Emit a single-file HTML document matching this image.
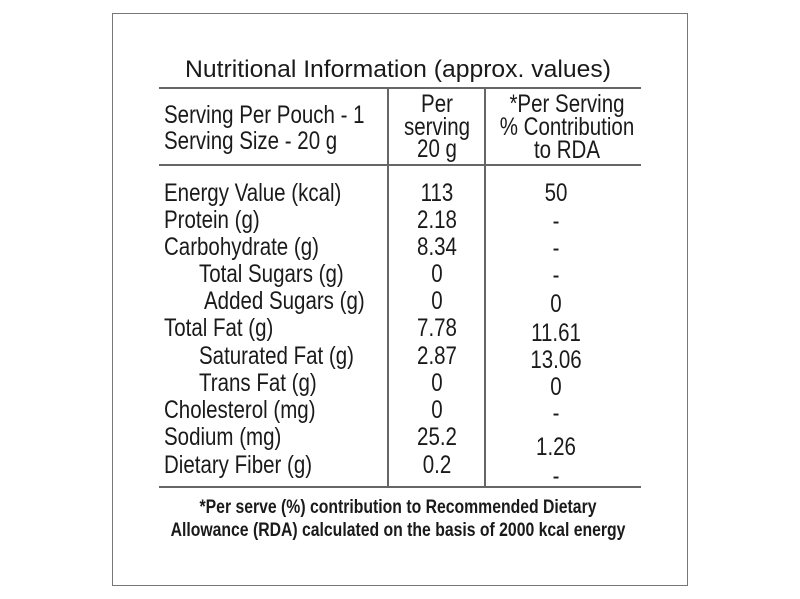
<!DOCTYPE html>
<html><head><meta charset="utf-8"><style>
body{margin:0;width:800px;height:599px;background:#fff;position:relative;overflow:hidden;font-family:"Liberation Sans",Arial,sans-serif;color:#1a1a1a}
.b{position:absolute;border:1px solid #777}
.l{position:absolute;background:#666}
.t{position:absolute;white-space:nowrap;font-size:25px;line-height:26px;height:26px;transform-origin:left center;transform:scaleX(0.82)}
.c{position:absolute;white-space:nowrap;font-size:25px;line-height:26px;height:26px;width:200px;text-align:center;transform:scaleX(0.82)}
.f{position:absolute;left:98px;width:600px;text-align:center;font-weight:bold;font-size:19px;line-height:22px;transform:scaleX(0.83);white-space:nowrap}
</style></head><body>
<div class="b" style="left:112px;top:13px;width:574px;height:571px"></div>
<div class="l" style="left:159px;top:87px;width:482px;height:2px"></div>
<div class="l" style="left:159px;top:164px;width:482px;height:2px"></div>
<div class="l" style="left:159px;top:486px;width:482px;height:2px"></div>
<div class="l" style="left:387px;top:88px;width:2px;height:399px"></div>
<div class="l" style="left:484px;top:88px;width:2px;height:399px"></div>
<div class="c" style="left:159px;top:57px;width:478px;font-size:24px;transform:scaleX(1.03)">Nutritional Information (approx. values)</div>
<div class="t" style="left:164px;top:102px">Serving Per Pouch - 1</div>
<div class="t" style="left:164px;top:128px">Serving Size - 20 g</div>
<div class="c" style="left:337px;top:91px">Per</div>
<div class="c" style="left:337px;top:114px">serving</div>
<div class="c" style="left:337px;top:136px">20 g</div>
<div class="c" style="left:467px;top:91px">*Per Serving</div>
<div class="c" style="left:467px;top:114px">% Contribution</div>
<div class="c" style="left:467px;top:137px">to RDA</div>
<div class="t" style="left:164px;top:180px">Energy Value (kcal)</div>
<div class="t" style="left:164px;top:207px">Protein (g)</div>
<div class="t" style="left:164px;top:234px">Carbohydrate (g)</div>
<div class="t" style="left:199px;top:261px">Total Sugars (g)</div>
<div class="t" style="left:204px;top:288px">Added Sugars (g)</div>
<div class="t" style="left:164px;top:315px">Total Fat (g)</div>
<div class="t" style="left:199px;top:343px">Saturated Fat (g)</div>
<div class="t" style="left:199px;top:370px">Trans Fat (g)</div>
<div class="t" style="left:164px;top:397px">Cholesterol (mg)</div>
<div class="t" style="left:164px;top:424px">Sodium (mg)</div>
<div class="t" style="left:164px;top:452px">Dietary Fiber (g)</div>
<div class="c" style="left:337px;top:180px">113</div>
<div class="c" style="left:337px;top:207px">2.18</div>
<div class="c" style="left:337px;top:234px">8.34</div>
<div class="c" style="left:337px;top:261px">0</div>
<div class="c" style="left:337px;top:288px">0</div>
<div class="c" style="left:337px;top:315px">7.78</div>
<div class="c" style="left:337px;top:343px">2.87</div>
<div class="c" style="left:337px;top:370px">0</div>
<div class="c" style="left:337px;top:397px">0</div>
<div class="c" style="left:337px;top:424px">25.2</div>
<div class="c" style="left:337px;top:452px">0.2</div>
<div class="c" style="left:456px;top:180px">50</div>
<div class="c" style="left:456px;top:208px">-</div>
<div class="c" style="left:456px;top:235px">-</div>
<div class="c" style="left:456px;top:262px">-</div>
<div class="c" style="left:456px;top:291px">0</div>
<div class="c" style="left:456px;top:320px">11.61</div>
<div class="c" style="left:456px;top:347px">13.06</div>
<div class="c" style="left:456px;top:374px">0</div>
<div class="c" style="left:456px;top:400px">-</div>
<div class="c" style="left:456px;top:434px">1.26</div>
<div class="c" style="left:456px;top:463px">-</div>
<div class="f" style="top:497px">*Per serve (%) contribution to Recommended Dietary</div>
<div class="f" style="top:520px">Allowance (RDA) calculated on the basis of 2000 kcal energy</div>
</body></html>
